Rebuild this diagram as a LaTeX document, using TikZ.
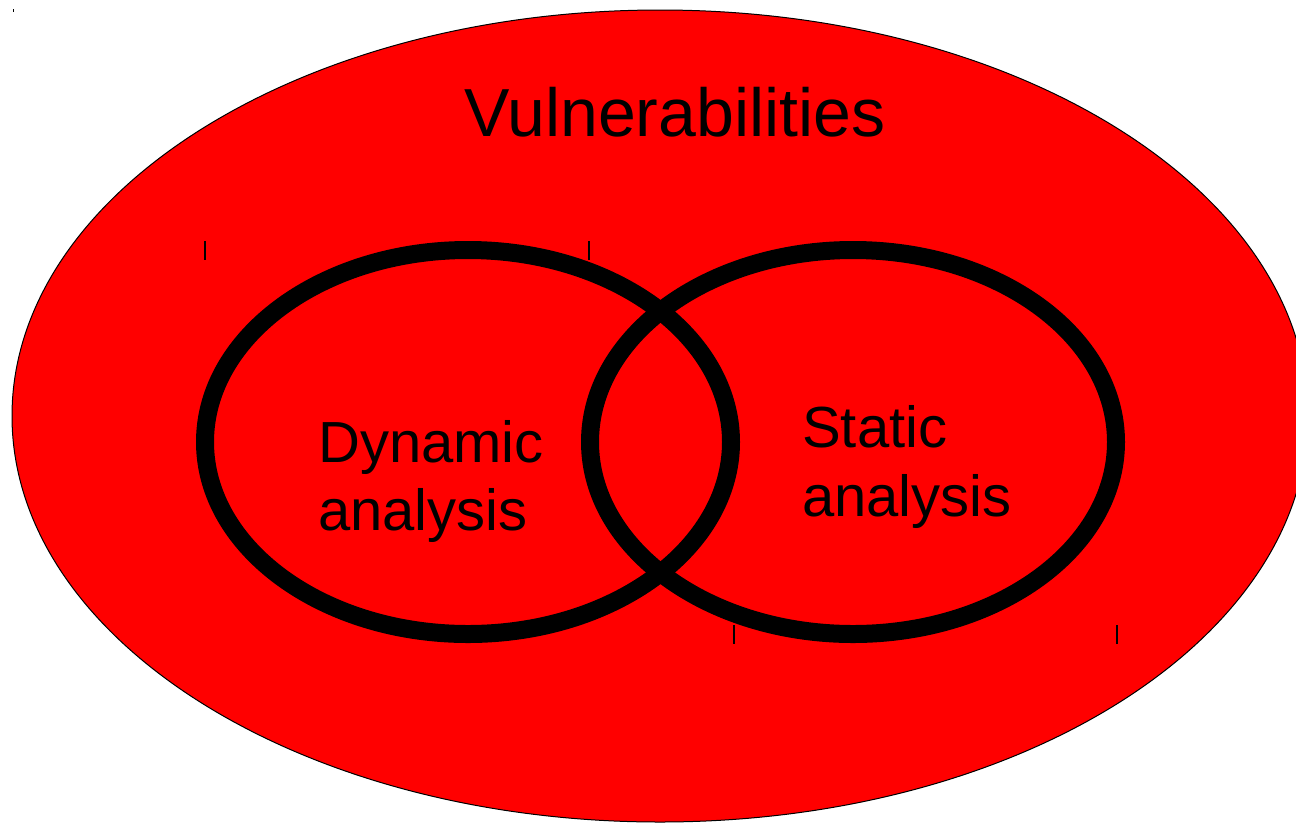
\documentclass[tikz,border=0pt]{standalone}
\usepackage{fontspec}
\setmainfont{Liberation Sans}
\begin{document}
\begin{tikzpicture}[x=1pt,y=-1pt,
  ring/.style={draw=black,line width=18pt},
  tick/.style={draw=black,line width=1.5pt},
  lbl/.style={inner sep=0pt,anchor=base west,font=\fontsize{58}{68}\selectfont}]
\useasboundingbox (0,0) rectangle (1296,823);
\clip (0,0) rectangle (1296,823);
\fill[white] (0,0) rectangle (1296,823);
\draw[fill=red,draw=black,line width=1pt] (660,416) ellipse [x radius=648, y radius=406];
\node[inner sep=0pt,anchor=base,font=\fontsize{68}{78}\selectfont] (vul) at (675,136) {Vulnerabilities};
\draw[ring] (468,442) ellipse [x radius=263, y radius=192];
\draw[ring] (853,442) ellipse [x radius=263, y radius=192];
\node[lbl] (dyn1) at (318,462) {Dynamic};
\node[lbl] (dyn2) at (318,530) {analysis};
\node[lbl] (sta1) at (802,447) {Static};
\node[lbl] (sta2) at (802,516) {analysis};
\draw[tick] (205,241) -- (205,260);
\draw[tick] (589,241) -- (589,260);
\draw[tick] (734,625) -- (734,644);
\draw[tick] (1117,625) -- (1117,644);
\draw[black,line width=0.5pt] (13,9) -- (13,12);
\end{tikzpicture}
\end{document}
